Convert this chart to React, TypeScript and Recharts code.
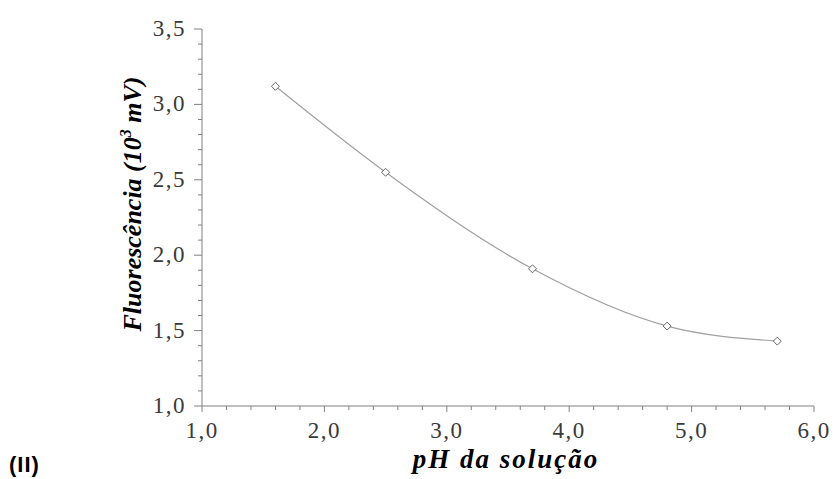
import React from 'react';
import { LineChart, Line, XAxis, YAxis, Label } from 'recharts';

// pH vs fluorescence (10^3 mV)
const phValues = [1.6, 2.5, 3.7, 4.8, 5.7];
const fluorescence = [3.12, 2.55, 1.91, 1.53, 1.43];

const xTicks = [1, 1.2, 1.4, 1.6, 1.8, 2, 2.2, 2.4, 2.6, 2.8, 3, 3.2, 3.4, 3.6, 3.8, 4, 4.2, 4.4, 4.6, 4.8, 5, 5.2, 5.4, 5.6, 5.8, 6];
const yTicks = [1, 1.1, 1.2, 1.3, 1.4, 1.5, 1.6, 1.7, 1.8, 1.9, 2, 2.1, 2.2, 2.3, 2.4, 2.5, 2.6, 2.7, 2.8, 2.9, 3, 3.1, 3.2, 3.3, 3.4, 3.5];

const data = phValues.map((ph, i) => ({ ph, f: fluorescence[i] }));

const AXIS_COLOR = '#808080';
const TEXT_COLOR = '#3a3a3a';
const serif = { fontFamily: "'Liberation Serif', 'Times New Roman', Times, serif" };

const fmt = (v: number) => v.toFixed(1).replace('.', ',');

const XTick = (props: any) => {
  const { x, y, payload } = props;
  const v = payload.value;
  const major = Math.abs(v - Math.round(v)) < 1e-6;
  return (
    <g>
      <line x1={x} y1={y} x2={x} y2={y + (major ? 6 : 4)} stroke={AXIS_COLOR} />
      {major && (
        <text x={x} y={y + 32} textAnchor="middle" fill={TEXT_COLOR} style={{ ...serif, fontSize: 23, letterSpacing: 1.5 }}>
          {fmt(v)}
        </text>
      )}
    </g>
  );
};

const YTick = (props: any) => {
  const { x, y, payload } = props;
  const v = payload.value;
  const major = Math.abs(v * 2 - Math.round(v * 2)) < 1e-6;
  return (
    <g>
      <line x1={x - (major ? 8 : 4)} y1={y} x2={x} y2={y} stroke={AXIS_COLOR} />
      {major && (
        <text x={x - 16} y={y + 7} textAnchor="end" fill={TEXT_COLOR} style={{ ...serif, fontSize: 23, letterSpacing: 1.5 }}>
          {fmt(v)}
        </text>
      )}
    </g>
  );
};

const Diamond = (props: any) => {
  const { cx, cy } = props;
  if (cx == null || cy == null) return null;
  const r = 4;
  return (
    <polygon
      points={`${cx},${cy - r} ${cx + r},${cy} ${cx},${cy + r} ${cx - r},${cy}`}
      fill="#fff"
      stroke="#666"
      strokeWidth={1}
    />
  );
};

const YLabel = (props: any) => {
  const { viewBox } = props;
  const x = viewBox.x + 141;
  const y = 204;
  return (
    <text
      x={x}
      y={y}
      transform={`rotate(-90 ${x} ${y})`}
      textAnchor="middle"
      fill="#000"
      style={{ ...serif, fontSize: 26, fontWeight: 'bold', fontStyle: 'italic' }}
    >
      Fluorescência (10
      <tspan style={{ fontSize: 16 }} dy={-10}>3</tspan>
      <tspan dy={10}> mV)</tspan>
    </text>
  );
};

const XLabel = (props: any) => {
  const { viewBox } = props;
  const x = viewBox.x + viewBox.width / 2;
  return (
    <text
      x={x - 2}
      y={468}
      textAnchor="middle"
      fill="#000"
      style={{ ...serif, fontSize: 27, fontWeight: 'bold', fontStyle: 'italic', letterSpacing: 2 }}
    >
      pH da solução
    </text>
  );
};

export default function App() {
  return (
    <div style={{ position: 'absolute', left: 0, top: 0, width: 833, height: 479, background: '#fff' }}>
      <LineChart width={833} height={479} data={data} margin={{ top: 29, right: 19, bottom: 0, left: 0 }}>
        <XAxis
          dataKey="ph"
          type="number"
          domain={[1, 6]}
          ticks={xTicks}
          interval={0}
          height={73}
          tickSize={0}
          tickMargin={0}
          tickLine={false}
          axisLine={{ stroke: AXIS_COLOR }}
          tick={<XTick />}
        >
          <Label content={<XLabel />} />
        </XAxis>
        <YAxis
          type="number"
          domain={[1, 3.5]}
          ticks={yTicks}
          interval={0}
          width={202}
          tickSize={0}
          tickMargin={0}
          tickLine={false}
          axisLine={{ stroke: AXIS_COLOR }}
          tick={<YTick />}
        >
          <Label content={<YLabel />} />
        </YAxis>
        <Line
          type="monotone"
          dataKey="f"
          stroke="#a0a0a0"
          strokeWidth={1.2}
          dot={<Diamond />}
          activeDot={false}
          isAnimationActive={false}
        />
      </LineChart>
      <div
        style={{
          position: 'absolute',
          left: 9,
          top: 454,
          fontFamily: "'Liberation Sans', Arial, sans-serif",
          fontWeight: 'bold',
          fontSize: 22,
          lineHeight: '22px',
          letterSpacing: 1,
          color: '#000',
        }}
      >
        (II)
      </div>
    </div>
  );
}
